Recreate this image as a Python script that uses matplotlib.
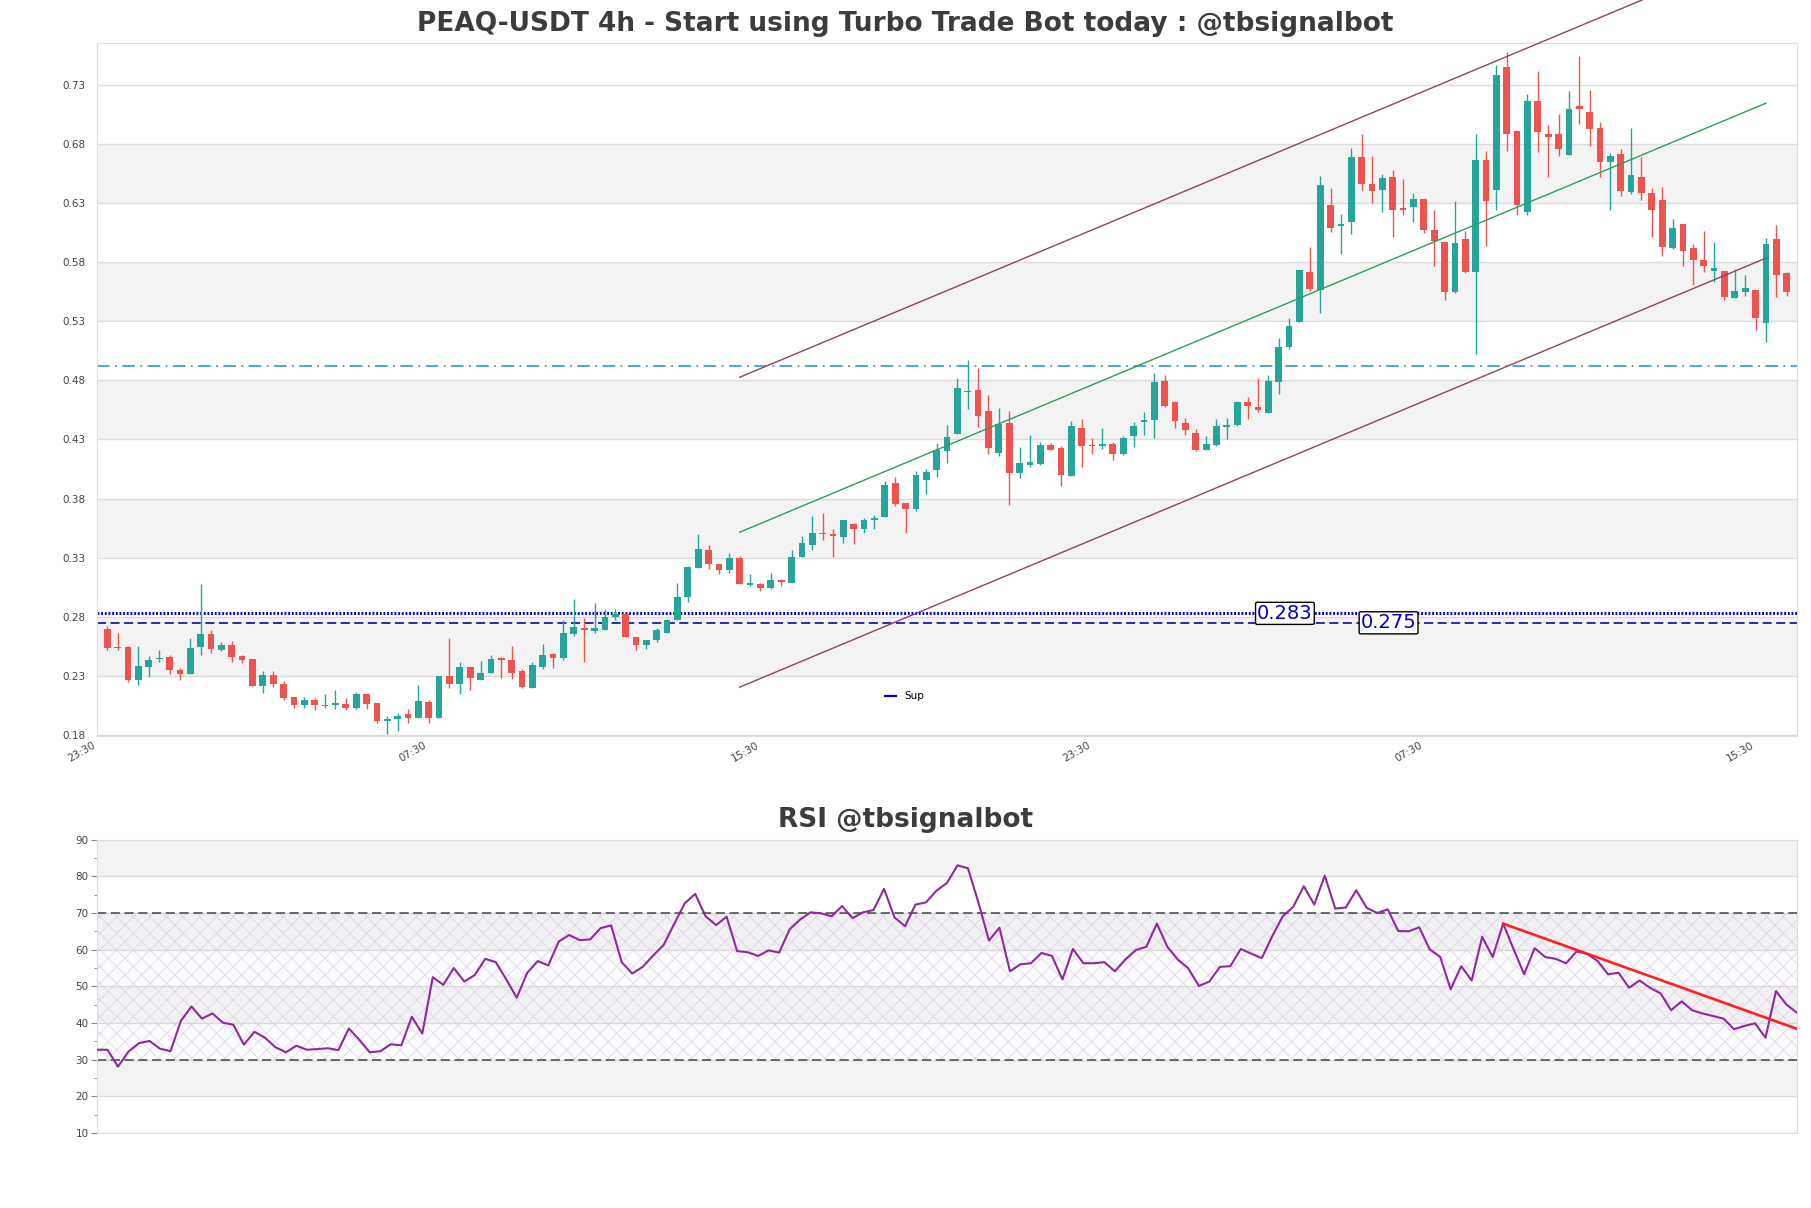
import numpy as np
import matplotlib
matplotlib.use("Agg")
import matplotlib.pyplot as plt
from matplotlib.lines import Line2D

# ---------------- data ----------------
opens = [0.270, 0.2546, 0.2546, 0.2263, 0.2379, 0.2441, 0.2464, 0.2354, 0.2314, 0.2543,
         0.2659, 0.2523, 0.2566, 0.2467, 0.2441, 0.2218, 0.2311, 0.2235, 0.2125, 0.2051,
         0.2100, 0.2043, 0.2054, 0.2065, 0.2032, 0.2145, 0.2074, 0.1924, 0.1933, 0.1975,
         0.1947, 0.2082, 0.1947, 0.2297, 0.2235, 0.2379, 0.2266, 0.2328, 0.2450, 0.2438,
         0.2339, 0.2199, 0.2373, 0.2486, 0.2449, 0.2654, 0.2710, 0.2682, 0.2688, 0.2795,
         0.2828, 0.2631, 0.2564, 0.2603, 0.2668, 0.2772, 0.2969, 0.3210, 0.3365, 0.3249,
         0.3193, 0.3300, 0.3070, 0.3081, 0.3042, 0.3112, 0.3084, 0.3306, 0.3412, 0.3511,
         0.3497, 0.3474, 0.3587, 0.3547, 0.3615, 0.3646, 0.3932, 0.3761, 0.3716, 0.3957,
         0.4041, 0.4199, 0.4343, 0.4699, 0.4719, 0.4542, 0.4189, 0.4441, 0.4013, 0.4081,
         0.4089, 0.4257, 0.4229, 0.3993, 0.4397, 0.4257, 0.4243, 0.4265, 0.4175, 0.4327,
         0.4447, 0.4461, 0.4792, 0.4621, 0.4441, 0.4355, 0.4209, 0.4251, 0.4405, 0.4419,
         0.4615, 0.4573, 0.4525, 0.4789, 0.5078, 0.5289, 0.5719, 0.5564, 0.6286, 0.6103,
         0.6137, 0.6685, 0.6463, 0.6412, 0.6519, 0.6255, 0.6266, 0.6337, 0.6075, 0.5971,
         0.5550, 0.5991, 0.5716, 0.6665, 0.6406, 0.7446, 0.6908, 0.6222, 0.7160, 0.6880,
         0.6880, 0.6706, 0.7118, 0.7070, 0.6930, 0.6650, 0.6715, 0.6390, 0.6516, 0.6384,
         0.6328, 0.5922, 0.6118, 0.5916, 0.5818, 0.5726, 0.5726, 0.5499, 0.5549, 0.5563,
         0.5286, 0.5992, 0.5706]
highs = [0.2720, 0.2667, 0.2554, 0.2554, 0.2470, 0.2520, 0.2475, 0.2371, 0.2625, 0.3082,
         0.2693, 0.2591, 0.2597, 0.2475, 0.2441, 0.2342, 0.2342, 0.2258, 0.2125, 0.2122,
         0.2116, 0.2150, 0.2184, 0.2116, 0.2167, 0.2145, 0.2074, 0.1964, 0.1989, 0.2020,
         0.2221, 0.2094, 0.2297, 0.2625, 0.2421, 0.2379, 0.2427, 0.2478, 0.2464, 0.2554,
         0.2359, 0.2415, 0.2575, 0.2491, 0.2772, 0.2955, 0.2794, 0.2921, 0.2870, 0.2865,
         0.2828, 0.2631, 0.2606, 0.2710, 0.2780, 0.3089, 0.3230, 0.3497, 0.3412, 0.3249,
         0.3342, 0.3314, 0.3160, 0.3089, 0.3174, 0.3123, 0.3365, 0.3483, 0.3651, 0.3679,
         0.3539, 0.3623, 0.3595, 0.3637, 0.3660, 0.3946, 0.3983, 0.3761, 0.4036, 0.4047,
         0.4273, 0.4425, 0.4817, 0.4971, 0.4901, 0.4677, 0.4565, 0.4537, 0.4237, 0.4341,
         0.4279, 0.4273, 0.4243, 0.4453, 0.4469, 0.4313, 0.4397, 0.4279, 0.4329, 0.4447,
         0.4531, 0.4862, 0.4845, 0.4629, 0.4481, 0.4385, 0.4329, 0.4469, 0.4481, 0.4629,
         0.4657, 0.4817, 0.4845, 0.5157, 0.5331, 0.5730, 0.5926, 0.6525, 0.6426, 0.6202,
         0.6763, 0.6884, 0.6699, 0.6547, 0.6575, 0.6505, 0.6384, 0.6337, 0.6238, 0.5971,
         0.6320, 0.6061, 0.6884, 0.6735, 0.7462, 0.7572, 0.6916, 0.7219, 0.7412, 0.6958,
         0.7048, 0.7244, 0.7538, 0.7252, 0.6981, 0.6720, 0.6757, 0.6936, 0.6684, 0.6426,
         0.6432, 0.6160, 0.6118, 0.5950, 0.6062, 0.5970, 0.5726, 0.5740, 0.5689, 0.5563,
         0.6000, 0.6109, 0.5720]
lows = [0.2520, 0.2518, 0.2249, 0.2221, 0.2292, 0.2421, 0.2314, 0.2263, 0.2314, 0.2475,
        0.2492, 0.2512, 0.2416, 0.2413, 0.2212, 0.2159, 0.2210, 0.2100, 0.2026, 0.2026,
        0.2015, 0.2032, 0.2018, 0.2015, 0.2018, 0.2018, 0.1899, 0.1814, 0.1834, 0.1899,
        0.1947, 0.1899, 0.1947, 0.2195, 0.2150, 0.2178, 0.2263, 0.2328, 0.2280, 0.2271,
        0.2199, 0.2199, 0.2359, 0.2367, 0.2435, 0.2640, 0.2419, 0.2660, 0.2688, 0.2772,
        0.2631, 0.2522, 0.2528, 0.2584, 0.2668, 0.2772, 0.2929, 0.3210, 0.3202, 0.3160,
        0.3174, 0.3075, 0.3061, 0.3019, 0.3033, 0.3061, 0.3084, 0.3306, 0.3362, 0.3446,
        0.3308, 0.3426, 0.3418, 0.3511, 0.3547, 0.3646, 0.3735, 0.3511, 0.3693, 0.3839,
        0.3982, 0.4097, 0.4343, 0.4554, 0.4402, 0.4181, 0.4161, 0.3747, 0.3976, 0.4069,
        0.4083, 0.4209, 0.3909, 0.3993, 0.4069, 0.4175, 0.4223, 0.4125, 0.4167, 0.4237,
        0.4335, 0.4313, 0.4573, 0.4397, 0.4335, 0.4201, 0.4209, 0.4245, 0.4301, 0.4413,
        0.4475, 0.4531, 0.4525, 0.4685, 0.5064, 0.5289, 0.5556, 0.5373, 0.6053, 0.5865,
        0.6033, 0.6412, 0.6300, 0.6221, 0.6013, 0.6196, 0.6137, 0.6047, 0.5766, 0.5480,
        0.5542, 0.5711, 0.5022, 0.5935, 0.6238, 0.6743, 0.6196, 0.6196, 0.6734, 0.6516,
        0.6698, 0.6706, 0.6967, 0.6785, 0.6516, 0.6238, 0.6362, 0.6378, 0.6328, 0.6014,
        0.5852, 0.5908, 0.5768, 0.5605, 0.5712, 0.5633, 0.5482, 0.5493, 0.5516, 0.5222,
        0.5124, 0.5507, 0.5516]
closes = [0.2540, 0.2535, 0.2263, 0.2385, 0.2438, 0.2455, 0.2348, 0.2314, 0.2540, 0.2659,
          0.2526, 0.2563, 0.2458, 0.2433, 0.2218, 0.2308, 0.2235, 0.2116, 0.2051, 0.2100,
          0.2051, 0.2057, 0.2068, 0.2032, 0.2145, 0.2060, 0.1921, 0.1935, 0.1964, 0.1947,
          0.2088, 0.1947, 0.2297, 0.2235, 0.2379, 0.2280, 0.2328, 0.2447, 0.2436, 0.2328,
          0.2204, 0.2393, 0.2477, 0.2452, 0.2660, 0.2716, 0.2688, 0.2702, 0.2795, 0.2828,
          0.2631, 0.2564, 0.2606, 0.2691, 0.2772, 0.2969, 0.3224, 0.3376, 0.3244, 0.3193,
          0.3300, 0.3075, 0.3084, 0.3042, 0.3109, 0.3098, 0.3308, 0.3421, 0.3511, 0.3497,
          0.3483, 0.3615, 0.3539, 0.3617, 0.3637, 0.3918, 0.3755, 0.3716, 0.3997, 0.4027,
          0.4209, 0.4321, 0.4733, 0.4708, 0.4495, 0.4229, 0.4433, 0.4013, 0.4105, 0.4111,
          0.4251, 0.4209, 0.3999, 0.4411, 0.4243, 0.4246, 0.4262, 0.4175, 0.4313, 0.4413,
          0.4461, 0.4783, 0.4587, 0.4453, 0.4377, 0.4215, 0.4265, 0.4413, 0.4425, 0.4621,
          0.4581, 0.4545, 0.4792, 0.5078, 0.5261, 0.5730, 0.5570, 0.6454, 0.6089, 0.6123,
          0.6685, 0.6460, 0.6398, 0.6511, 0.6244, 0.6244, 0.6337, 0.6070, 0.5977, 0.5547,
          0.5957, 0.5719, 0.6665, 0.6314, 0.7378, 0.6880, 0.6280, 0.7160, 0.6902, 0.6860,
          0.6754, 0.7093, 0.7090, 0.6922, 0.6650, 0.6698, 0.6398, 0.6538, 0.6384, 0.6244,
          0.5930, 0.6084, 0.5894, 0.5818, 0.5768, 0.5746, 0.5507, 0.5552, 0.5580, 0.5325,
          0.5950, 0.5692, 0.5549]

rsi = [32.7, 32.7, 28.1, 32.2, 34.5, 35.1, 33.0, 32.3, 40.6, 44.5,
       41.2, 42.6, 40.1, 39.5, 34.1, 37.6, 36.0, 33.4, 32.0, 33.8,
       32.7, 32.9, 33.1, 32.6, 38.5, 35.4, 32.0, 32.3, 34.2, 33.9,
       41.7, 37.1, 52.5, 50.4, 55.0, 51.3, 53.1, 57.5, 56.6, 51.9,
       46.9, 53.7, 56.9, 55.7, 62.2, 64.0, 62.6, 62.8, 65.9, 66.6,
       56.6, 53.5, 55.3, 58.4, 61.3, 67.0, 72.6, 75.2, 69.1, 66.7,
       69.0, 59.6, 59.3, 58.3, 59.8, 59.2, 65.5, 68.2, 70.2, 69.9,
       69.1, 71.9, 68.6, 70.2, 70.8, 76.6, 68.8, 66.4, 72.3, 72.9,
       76.1, 78.2, 83.0, 82.2, 72.8, 62.5, 66.0, 54.1, 56.0, 56.3,
       59.1, 58.3, 51.9, 60.2, 56.3, 56.3, 56.6, 54.1, 57.3, 59.9,
       60.8, 67.1, 60.8, 57.3, 54.9, 50.1, 51.3, 55.3, 55.5, 60.2,
       58.9, 57.7, 63.7, 69.1, 71.7, 77.3, 72.3, 80.2, 71.2, 71.5,
       76.2, 71.4, 70.0, 71.0, 65.1, 65.0, 66.1, 60.1, 58.0, 49.2,
       55.5, 51.6, 63.5, 58.0, 67.1, 60.1, 53.3, 60.4, 58.0, 57.5,
       56.3, 59.5, 58.9, 56.9, 53.3, 53.7, 49.6, 51.6, 49.6, 48.1,
       43.5, 45.9, 43.5, 42.6, 41.9, 41.2, 38.3, 39.2, 39.9, 36.0,
       48.7, 45.0, 42.8]

x_tick_labels = ["23:30", "07:30", "15:30", "23:30", "07:30", "15:30"]
price_ticks = [0.18, 0.23, 0.28, 0.33, 0.38, 0.43, 0.48, 0.53, 0.58, 0.63, 0.68, 0.73]
price_tick_labels = ["0.18", "0.23", "0.28", "0.33", "0.38", "0.43", "0.48", "0.53",
                     "0.58", "0.63", "0.68", "0.73"]
rsi_ticks = [10, 20, 30, 40, 50, 60, 70, 80, 90]

support_levels = [0.283, 0.275]
support_label_x = [113.6, 123.6]
resistance_level = 0.492
channel_x = [61, 160]
channel_mid = [0.3516, 0.7143]
channel_halfwidth = 0.131
rsi_trend_idx = [134, 142]

# ---------------- figure ----------------
plt.rcParams["hatch.linewidth"] = 0.5
n = len(closes)
x = np.arange(n)
o = np.array(opens); h = np.array(highs); l = np.array(lows); c = np.array(closes)
up = c >= o
GREEN, RED = "#26a69a", "#ef5350"
cols = np.where(up, GREEN, RED)

fig = plt.figure(figsize=(18.11, 12.08), dpi=100)
ax = fig.add_axes([0.05356, 0.3910, 0.9387, 0.5730])
ax2 = fig.add_axes([0.05356, 0.0621, 0.9387, 0.2428])

# main price chart
ax.set_xlim(-1, n)
ax.set_ylim(min(lows) * 0.99, max(highs) * 1.01)
for k in range(1, len(price_ticks) - 1, 2):
    ax.axhspan(price_ticks[k], price_ticks[k + 1], color="#f3f3f3", zorder=0, lw=0)
ax.set_yticks(price_ticks)
ax.set_yticklabels(price_tick_labels)
ax.yaxis.grid(True, color="#dcdcdc", lw=1.0)
ax.set_axisbelow(True)

ax.vlines(x, l, h, colors=cols, lw=1.0, zorder=3)
body = np.abs(c - o)
ax.bar(x, np.maximum(body, 0.0006), bottom=np.minimum(o, c), width=0.65, color=cols,
       zorder=4, lw=0)

# support / resistance lines
ax.axhline(support_levels[0], color="#0000dd", lw=2.2, ls=(0, (0.6, 0.6)), zorder=2)
ax.axhline(support_levels[1], color="#1a1aaa", lw=1.3, ls=(0, (5, 2.5)), zorder=2)
ax.axhline(resistance_level, color="#3aa2d4", lw=1.3, ls=(0, (7, 3, 1, 3)), zorder=2)
for lvl, xl in zip(support_levels, support_label_x):
    ax.text(xl, lvl, f"{lvl:.3f}", color="#0000cc", fontsize=14, ha="center",
            va="center", zorder=6,
            bbox=dict(boxstyle="round,pad=0.08", fc="white", ec="black", lw=1.0))

# regression channel
cx = np.array(channel_x)
cm = np.array(channel_mid)
ax.plot(cx, cm, color="#2e9e5b", lw=1.0, zorder=5)
ax.plot(cx, cm - channel_halfwidth, color="#8b4565", lw=1.0, zorder=5)
ax.plot(cx, cm + channel_halfwidth, color="#8b4565", lw=1.0, zorder=5, clip_on=False)

ax.legend(handles=[Line2D([], [], color="#0000cc", lw=1.6)], labels=["Sup"],
          loc="center", bbox_to_anchor=(0.475, 0.057), frameon=False, fontsize=7.5,
          handlelength=1.0)

ax.set_xticks([k - 1 for k in range(0, n, 32)][:len(x_tick_labels)])
ax.set_xticklabels(x_tick_labels, rotation=30, ha="right")
ax.tick_params(axis="x", length=0, pad=3, labelsize=7.5, labelcolor="#444444")
ax.tick_params(axis="y", length=0, pad=8, labelsize=7.5, labelcolor="#444444")
for s in ax.spines.values():
    s.set_color("#dddddd")

# RSI panel
xr = np.arange(len(rsi))
ax2.set_xlim(xr[0], xr[-1])
ax2.set_ylim(rsi_ticks[0], rsi_ticks[-1])
for k in range(1, len(rsi_ticks) - 1, 2):
    ax2.axhspan(rsi_ticks[k], rsi_ticks[k + 1], color="#f3f3f3", zorder=0, lw=0)
ax2.set_yticks(rsi_ticks)
ax2.set_yticks([t + 5 for t in rsi_ticks[:-1]], minor=True)
ax2.yaxis.grid(True, color="#dcdcdc", lw=1.0)
ax2.set_axisbelow(True)
ax2.fill_between([xr[0], xr[-1]], 30, 70, facecolor=(0.75, 0.6, 0.85, 0.03),
                 edgecolor=(0.84, 0.78, 0.89, 0.8), hatch="xx", lw=0, zorder=1)
ax2.axhline(70, color="#444444", lw=1.1, ls=(0, (6, 3)), zorder=2)
ax2.axhline(30, color="#444444", lw=1.1, ls=(0, (6, 3)), zorder=2)
ax2.plot(xr, rsi, color="#8e2a9e", lw=1.5, zorder=4)

i0, i1 = rsi_trend_idx
slope = (rsi[i1] - rsi[i0]) / (i1 - i0)
tx = np.array([i0, xr[-1]])
ax2.plot(tx, rsi[i0] + slope * (tx - i0), color="#ff2020", lw=1.9, zorder=5)

ax2.set_xticks([])
ax2.tick_params(axis="y", which="major", length=4, color="#888888", labelsize=7.5,
                labelcolor="#444444", pad=2)
ax2.tick_params(axis="y", which="minor", length=2.5, color="#888888")
for s in ax2.spines.values():
    s.set_color("#dddddd")

fig.text(0.5, 1 - 24 / 1208, "PEAQ-USDT 4h - Start using Turbo Trade Bot today : @tbsignalbot",
         ha="center", va="center", fontsize=19, fontweight="bold", color="#3c3c3c")
fig.text(0.5, 1 - 820 / 1208, "RSI @tbsignalbot", ha="center", va="center",
         fontsize=19, fontweight="bold", color="#3c3c3c")

fig.savefig("out.png", dpi=100)
